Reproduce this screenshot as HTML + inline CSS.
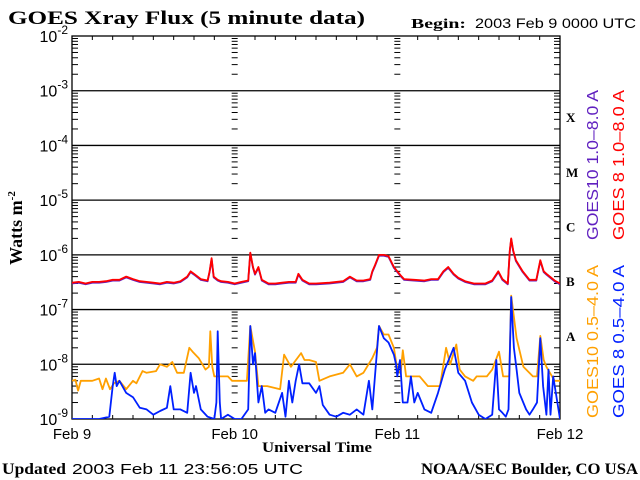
<!DOCTYPE html>
<html><head><meta charset="utf-8"><style>
html,body{margin:0;padding:0;background:#fff;}
svg{display:block;}
.serif{font-family:"Liberation Serif",serif;font-weight:bold;}
.sans{font-family:"Liberation Sans",sans-serif;}
</style></head><body>
<svg id="chart" width="640" height="480" viewBox="0 0 640 480" xmlns="http://www.w3.org/2000/svg">
<text class="serif" x="8" y="24" font-size="19" textLength="357" lengthAdjust="spacingAndGlyphs">GOES Xray Flux (5 minute data)</text>
<text class="serif" x="411" y="28" font-size="14" textLength="55" lengthAdjust="spacingAndGlyphs">Begin:</text>
<text class="sans" x="475" y="28" font-size="14" textLength="161" lengthAdjust="spacingAndGlyphs">2003 Feb 9 0000 UTC</text>
<text class="serif" font-size="18" transform="translate(22,228) rotate(-90)" text-anchor="middle">Watts m<tspan font-size="11" dy="-7">-2</tspan></text>
<text class="serif" x="262" y="452" font-size="15" textLength="110" lengthAdjust="spacingAndGlyphs">Universal Time</text>
<text class="serif" x="2" y="474" font-size="16" textLength="64" lengthAdjust="spacingAndGlyphs">Updated</text>
<text class="sans" x="72" y="474" font-size="15" textLength="231" lengthAdjust="spacingAndGlyphs">2003 Feb 11 23:56:05 UTC</text>
<text class="serif" x="421" y="474" font-size="16" textLength="217" lengthAdjust="spacingAndGlyphs">NOAA/SEC Boulder, CO USA</text>
<text class="sans" font-size="16" fill="#6020c0" transform="translate(598,240) rotate(-90)" textLength="150" lengthAdjust="spacingAndGlyphs">GOES10 1.0–8.0 A</text>
<text class="sans" font-size="16" fill="#ff0000" transform="translate(624,240) rotate(-90)" textLength="150" lengthAdjust="spacingAndGlyphs">GOES 8 1.0–8.0 A</text>
<text class="sans" font-size="16" fill="#ffa000" transform="translate(598,418) rotate(-90)" textLength="153" lengthAdjust="spacingAndGlyphs">GOES10 0.5–4.0 A</text>
<text class="sans" font-size="16" fill="#0020ff" transform="translate(624,418) rotate(-90)" textLength="153" lengthAdjust="spacingAndGlyphs">GOES 8 0.5–4.0 A</text>
<g id="g"></g>
</svg>
<script>
const decades=[-2,-3,-4,-5,-6,-7,-8,-9];
const dayLabels=["Feb 9","Feb 10","Feb 11","Feb 12"];
const classLabels=["X","M","C","B","A"];
const longT=[0,1,2,3,4,5,6,7,8,9,10,11,12,13,14,15,16,17,17.5,18,19,20,20.3,20.6,20.9,21.5,22,23,24,25,26,26.3,26.7,27,27.5,28,29,30,31,32,33,33.4,34,35,36,38,40,41,42,43,44,44.3,44.7,45.3,46,46.7,47.5,48,48.5,49,50.5,52,53,54,54.8,55.5,56.3,57,58,59.3,61,62,62.9,63.5,64.3,64.6,64.8,65.1,65.5,66.5,67.5,68.5,69.1,69.6,70,71.2,72];
const longV=[3.1e-7,3.2e-7,3.0e-7,3.2e-7,3.2e-7,3.3e-7,3.5e-7,3.5e-7,4e-7,3.6e-7,3.3e-7,3.2e-7,3.1e-7,3.0e-7,3.2e-7,3.1e-7,3.3e-7,4e-7,5e-7,4.5e-7,3.6e-7,3.4e-7,5e-7,8.7e-7,4e-7,3.5e-7,3.3e-7,3.2e-7,3.0e-7,3.2e-7,3.4e-7,1.1e-6,6e-7,4.5e-7,6e-7,3.5e-7,3.0e-7,3.0e-7,3.1e-7,3.2e-7,3.2e-7,4.5e-7,3.5e-7,3.0e-7,3.0e-7,3.1e-7,3.3e-7,4e-7,3.4e-7,3.4e-7,3.6e-7,5e-7,6.5e-7,1e-6,1e-6,9.5e-7,6e-7,5e-7,4.2e-7,3.6e-7,3.5e-7,3.4e-7,3.6e-7,3.6e-7,5e-7,6e-7,4.5e-7,3.8e-7,3.3e-7,3.0e-7,3.0e-7,3.4e-7,5e-7,3.6e-7,3.0e-7,1.2e-6,2e-6,1.2e-6,8e-7,5e-7,3.5e-7,3.5e-7,8e-7,5e-7,4.5e-7,3.4e-7,3.0e-7];
const orT=[0,0.5,0.9,1.3,2,3,4,4.5,5,5.6,6.2,7,8,9,9.5,10.4,11,12.4,13,14,14.8,15.5,16.5,17.3,17.8,18.7,19.7,20.2,20.4,20.7,21,22,23,23.6,24.5,25.8,26.3,27,27.5,28.8,30.7,31.3,32.3,33.8,34.3,35,36,36.5,38,40,41,42,43,44.3,45,45.3,46,46.7,47.5,48,48.5,48.8,49.3,51.3,52.5,54.3,55.2,55.8,56.7,57.2,58,59.2,59.7,61.2,62,63,63.6,64.5,64.8,65.6,66.6,68,68.6,69.1,69.6,70,71.2,72];
const orV=[5e-9,5.2e-9,3.3e-9,5e-9,5e-9,5e-9,5.5e-9,3.5e-9,5.5e-9,3.5e-9,4.5e-9,5e-9,3.5e-9,5e-9,4.5e-9,7.5e-9,7e-9,7.5e-9,1e-8,9e-9,1.1e-8,7e-9,7e-9,2e-8,1.7e-8,1.3e-8,8e-9,9e-9,4e-8,9e-9,6e-9,6e-9,6e-9,5e-9,5e-9,5e-9,5e-8,1.7e-8,4e-9,4e-9,3.5e-9,1.5e-8,9e-9,1.6e-8,1.2e-8,1.2e-8,1.1e-8,5e-9,6e-9,7e-9,1e-8,6e-9,7e-9,1.3e-8,2e-8,5e-8,3.5e-8,3.5e-8,2e-8,8e-9,7e-9,1.8e-8,6e-9,6e-9,4e-9,4e-9,2e-8,1e-8,2.3e-8,8e-9,6e-9,5e-9,6e-9,6e-9,8e-9,1.7e-8,6e-9,6e-9,1.8e-7,3e-8,9e-9,6e-9,6e-9,3.3e-8,1.2e-8,9e-9,5e-9,5e-9];
const blT=[0,2,4,5.5,6,6.3,6.6,7,8,9,10,11,12,13,14,14.5,15,16,17,17.5,18,18.3,19,20,21,21.3,21.5,21.8,22,23,24,25,26,26.3,26.7,27,27.5,28,28.5,29,30,31,31.5,32,32.5,33,33.5,34,35,36,36.5,37,38,39,40,41,42,43,43.8,44.3,45.3,46,46.7,47.5,47.8,48,48.4,48.8,49.5,50,50.5,51,52,53,54,55,56.3,57,58,59,60,61,62,62.6,63,63.5,64,64.4,64.8,65.2,65.6,66,67,67.5,68,68.6,69.1,69.5,70,70.3,70.6,71,72];
const blV=[1e-9,1e-9,1e-9,1.1e-9,4e-9,7e-9,4e-9,5e-9,3e-9,2.5e-9,1.6e-9,1.5e-9,1.2e-9,1.4e-9,1.6e-9,4e-9,1.5e-9,1.5e-9,1.3e-9,7e-9,3e-9,4e-9,1.5e-9,1.1e-9,1e-9,2e-9,4e-8,2e-9,1e-9,1.2e-9,1e-9,1e-9,1.5e-9,5e-8,1e-8,1.6e-8,2e-9,4e-9,1.3e-9,1.5e-9,1.3e-9,3e-9,1.1e-9,5e-9,2e-9,5e-9,1e-8,4.5e-9,4.5e-9,3e-9,4e-9,1.8e-9,1.2e-9,1.1e-9,1.3e-9,1.2e-9,1.5e-9,1.2e-9,5e-9,1.5e-9,5e-8,3e-8,2.5e-8,1.5e-8,1e-8,6e-9,1.2e-8,2e-9,2e-9,6e-9,2e-9,3e-9,1.5e-9,1.3e-9,3e-9,8e-9,2e-8,7e-9,5e-9,2e-9,1.2e-9,1e-9,1.2e-9,1.2e-8,1.5e-9,1.3e-9,1.1e-9,1.5e-9,1.7e-7,2e-8,8e-9,3e-9,1.5e-9,1.2e-9,1.5e-9,2e-9,3e-8,4e-9,1.2e-9,8e-9,1.2e-9,6e-9,1e-9,1e-9];
const X0=72,X1=560,YT=36,YB=419;
function xs(h){return X0+h*(X1-X0)/72;}
function ys(v){const l=Math.log10(v);return YT+(-2-l)*(YB-YT)/7;}
const g=document.getElementById('g');
const NS='http://www.w3.org/2000/svg';
function mk(tag,attrs,parent){const e=document.createElementNS(NS,tag);for(const k in attrs)e.setAttribute(k,attrs[k]);(parent||g).appendChild(e);return e;}
for(const d of decades){
 const y=ys(Math.pow(10,d));
 if(d>-9&&d<-2){const l=mk('line',{x1:X0,x2:X1,y1:y,y2:y,stroke:'#000','stroke-width':1.3});
 
 }
 const t=mk('text',{x:X0-4,y:y+6,'font-size':16,'text-anchor':'end','font-family':'Liberation Sans, sans-serif'});
 
 
 t.textContent='10';
 const s=mk('tspan',{dy:-8,'font-size':12},t);s.textContent=String(d);
}
for(let d=-9;d<-2;d++){
 for(let m=2;m<=9;m++){
  const y=ys(m*Math.pow(10,d));
  const len=6;
  mk('line',{x1:X0,x2:X0+len,y1:y,y2:y,stroke:'#000','stroke-width':1});
  mk('line',{x1:X1-len,x2:X1,y1:y,y2:y,stroke:'#000','stroke-width':1});
  for(const dx of [xs(24),xs(48)]) mk('line',{x1:dx-3,x2:dx+3,y1:y,y2:y,stroke:'#000','stroke-width':1});
 }
}
for(let h=3;h<72;h+=3){
 if(h%24===0)continue;
 mk('line',{x1:xs(h),x2:xs(h),y1:YT,y2:YT+4,stroke:'#000'});
 mk('line',{x1:xs(h),x2:xs(h),y1:YB,y2:YB-4,stroke:'#000'});
}
dayLabels.forEach((lab,i)=>{
 const t=mk('text',{x:xs(i*24),y:439,'font-size':15,'text-anchor':'middle','font-family':'Liberation Sans, sans-serif'});
 
 
 t.textContent=lab;
});
classLabels.forEach((c,i)=>{
 const y=(ys(Math.pow(10,-3-i))+ys(Math.pow(10,-4-i)))/2+4;
 const t=mk('text',{x:566,y:y,'font-size':13,'font-weight':'bold','font-family':'Liberation Serif, serif'});
 
 
 t.textContent=c;
});
const box=mk('rect',{x:X0,y:YT,width:X1-X0,height:YB-YT,fill:'none',stroke:'#000','stroke-width':1.3});


const clip=mk('clipPath',{id:'cp'});mk('rect',{x:X0,y:YT,width:X1-X0,height:YB-YT},clip);
function series(T,V,color,name,off){
 let p='';T.forEach((t,i)=>{p+=(i?'L':'M')+xs(t).toFixed(1)+','+(Math.min(ys(V[i]),YB+2)+off).toFixed(1);});
 const e=mk('path',{d:p,fill:'none',stroke:color,'stroke-width':1.8,'clip-path':'url(#cp)','stroke-linejoin':'round'});
 
 
}
series(longT,longV,'#6020c0','goes10-long-series',0.8);
series(longT,longV,'#ff0000','goes8-long-series',0);
series(orT,orV,'#ffa000','goes10-short-series',0);
series(blT,blV,'#0020ff','goes8-short-series',0);
</script>
</body></html>
